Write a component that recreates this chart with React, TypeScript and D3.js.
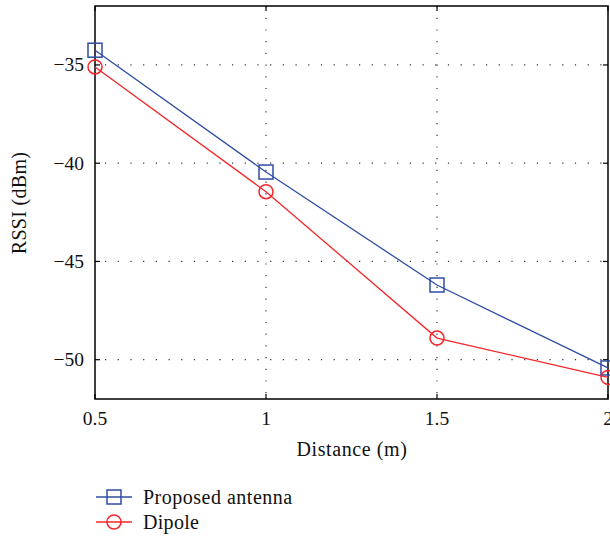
import React from "react";
import * as d3 from "d3";

const distances = [0.5, 1, 1.5, 2];
const proposed = [-34.25, -40.45, -46.2, -50.42];
const dipole = [-35.1, -41.45, -48.9, -50.9];
const xTicks = [0.5, 1, 1.5, 2];
const yTicks = [-35, -40, -45, -50];
const seriesNames = ["Proposed antenna", "Dipole"];

const W = 610, H = 539;
const M = { left: 95, right: 608, top: 6, bottom: 399 };
const FONT = "'Liberation Serif', 'Times New Roman', serif";
const BLUE = "#2f4ea3";
const RED = "#f4262a";

export default function App() {
  const x = d3.scaleLinear().domain([0.5, 2]).range([M.left, M.right]);
  const y = d3.scaleLinear().domain([-52, -32]).range([M.bottom, M.top]);
  const line = d3.line<[number, number]>().x(d => x(d[0])).y(d => y(d[1]));
  const pPts: [number, number][] = distances.map((d, i) => [d, proposed[i]]);
  const dPts: [number, number][] = distances.map((d, i) => [d, dipole[i]]);
  const fmtY = (v: number) => (v < 0 ? "\u2212" + Math.abs(v) : String(v));
  const sq = 14;
  return (
    <svg width={W} height={H} style={{ position: "absolute", left: 0, top: 0, background: "#fff" }} fontFamily={FONT}>
      <defs>
        <clipPath id="plotclip">
          <rect x={M.left - 10} y={M.top - 10} width={W} height={M.bottom - M.top + 20} />
        </clipPath>
      </defs>
      {/* grid */}
      {xTicks.filter(t => t !== 0.5 && t !== 2).map(t => (
        <line key={"gx" + t} x1={x(t)} x2={x(t)} y1={M.top} y2={M.bottom} stroke="#333" strokeWidth={1.2} strokeDasharray="1.2,10.5" />
      ))}
      {yTicks.map(t => (
        <line key={"gy" + t} x1={M.left} x2={M.right} y1={y(t)} y2={y(t)} stroke="#333" strokeWidth={1.2} strokeDasharray="1.2,11.5" strokeDashoffset={-10} />
      ))}
      {/* ticks inward */}
      {xTicks.map(t => (
        <g key={"tx" + t}>
          <line x1={x(t)} x2={x(t)} y1={M.bottom} y2={M.bottom - 5} stroke="#000" strokeWidth={1.2} />
          <line x1={x(t)} x2={x(t)} y1={M.top} y2={M.top + 5} stroke="#000" strokeWidth={1.2} />
          <text x={x(t)} y={425} textAnchor="middle" fontSize={19.5} fill="#111">{t}</text>
        </g>
      ))}
      {yTicks.map(t => (
        <g key={"ty" + t}>
          <line x1={M.left} x2={M.left + 5} y1={y(t)} y2={y(t)} stroke="#000" strokeWidth={1.2} />
          <line x1={M.right} x2={M.right - 5} y1={y(t)} y2={y(t)} stroke="#000" strokeWidth={1.2} />
          <text x={84} y={y(t) + 6.5} textAnchor="end" fontSize={19.5} fill="#111">{fmtY(t)}</text>
        </g>
      ))}
      {/* frame */}
      <rect x={M.left} y={M.top} width={M.right - M.left} height={M.bottom - M.top} fill="none" stroke="#000" strokeWidth={1.5} />
      {/* series */}
      <g clipPath="url(#plotclip)">
        <path d={line(pPts) || ""} fill="none" stroke={BLUE} strokeWidth={1.3} />
        <path d={line(dPts) || ""} fill="none" stroke={RED} strokeWidth={1.3} />
        {pPts.map((p, i) => (
          <rect key={"ps" + i} x={x(p[0]) - sq / 2} y={y(p[1]) - sq / 2} width={sq} height={sq} fill="none" stroke={BLUE} strokeWidth={1.5} />
        ))}
        {dPts.map((p, i) => (
          <circle key={"dc" + i} cx={x(p[0])} cy={y(p[1])} r={7} fill="none" stroke={RED} strokeWidth={1.5} />
        ))}
      </g>
      {/* axis labels */}
      <text x={352} y={456} textAnchor="middle" fontSize={20} letterSpacing={0.6} fill="#111">Distance (m)</text>
      <text transform="translate(26,203) rotate(-90)" textAnchor="middle" fontSize={20} letterSpacing={0.3} fill="#111">RSSI (dBm)</text>
      {/* legend */}
      <g>
        <line x1={96} x2={132} y1={497} y2={497} stroke={BLUE} strokeWidth={1.3} />
        <rect x={114 - sq / 2} y={497 - sq / 2} width={sq} height={sq} fill="none" stroke={BLUE} strokeWidth={1.5} />
        <text x={143} y={504} fontSize={20} letterSpacing={0.5} fill="#111">{seriesNames[0]}</text>
        <line x1={96} x2={132} y1={522} y2={522} stroke={RED} strokeWidth={1.3} />
        <circle cx={114} cy={522} r={7} fill="none" stroke={RED} strokeWidth={1.5} />
        <text x={143} y={529} fontSize={20} letterSpacing={0.3} fill="#111">{seriesNames[1]}</text>
      </g>
    </svg>
  );
}
